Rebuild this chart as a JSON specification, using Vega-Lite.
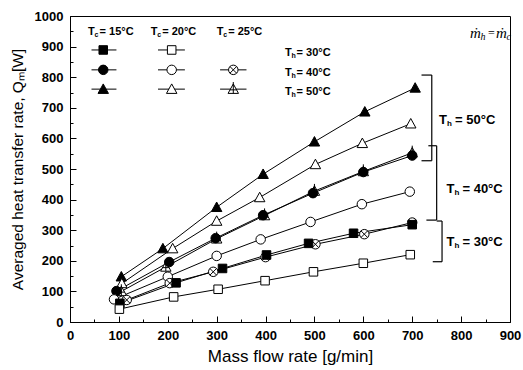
{
  "$schema": "https://vega.github.io/schema/vega-lite/v6.json",
  "width": 440,
  "height": 306,
  "autosize": {"type": "none"},
  "padding": {"left": 70, "top": 16, "right": 13, "bottom": 48},
  "background": "white",
  "config": {
    "view": {"stroke": "black", "strokeWidth": 1},
    "font": "Liberation Sans",
    "axis": {"grid": false, "domainColor": "black", "tickColor": "black", "labelColor": "black", "titleColor": "black"}
  },
  "datasets": {
    "series": [
      {"x": 105, "y": 148, "series": "15-50", "tc": "15"},
      {"x": 190, "y": 240, "series": "15-50", "tc": "15"},
      {"x": 300, "y": 375, "series": "15-50", "tc": "15"},
      {"x": 395, "y": 483, "series": "15-50", "tc": "15"},
      {"x": 500, "y": 589, "series": "15-50", "tc": "15"},
      {"x": 603, "y": 687, "series": "15-50", "tc": "15"},
      {"x": 706, "y": 765, "series": "15-50", "tc": "15"},
      {"x": 106, "y": 126, "series": "20-50", "tc": "20"},
      {"x": 210, "y": 240, "series": "20-50", "tc": "20"},
      {"x": 300, "y": 330, "series": "20-50", "tc": "20"},
      {"x": 388, "y": 407, "series": "20-50", "tc": "20"},
      {"x": 502, "y": 515, "series": "20-50", "tc": "20"},
      {"x": 598, "y": 584, "series": "20-50", "tc": "20"},
      {"x": 697, "y": 648, "series": "20-50", "tc": "20"},
      {"x": 105, "y": 100, "series": "25-50", "tc": "25"},
      {"x": 196, "y": 180, "series": "25-50", "tc": "25"},
      {"x": 300, "y": 272, "series": "25-50", "tc": "25"},
      {"x": 398, "y": 348, "series": "25-50", "tc": "25"},
      {"x": 500, "y": 428, "series": "25-50", "tc": "25"},
      {"x": 600, "y": 492, "series": "25-50", "tc": "25"},
      {"x": 700, "y": 553, "series": "25-50", "tc": "25"},
      {"x": 95, "y": 101, "series": "15-40", "tc": "15"},
      {"x": 203, "y": 196, "series": "15-40", "tc": "15"},
      {"x": 298, "y": 274, "series": "15-40", "tc": "15"},
      {"x": 395, "y": 349, "series": "15-40", "tc": "15"},
      {"x": 497, "y": 421, "series": "15-40", "tc": "15"},
      {"x": 600, "y": 490, "series": "15-40", "tc": "15"},
      {"x": 700, "y": 544, "series": "15-40", "tc": "15"},
      {"x": 90, "y": 74, "series": "20-40", "tc": "20"},
      {"x": 200, "y": 148, "series": "20-40", "tc": "20"},
      {"x": 300, "y": 216, "series": "20-40", "tc": "20"},
      {"x": 390, "y": 270, "series": "20-40", "tc": "20"},
      {"x": 492, "y": 327, "series": "20-40", "tc": "20"},
      {"x": 597, "y": 385, "series": "20-40", "tc": "20"},
      {"x": 695, "y": 426, "series": "20-40", "tc": "20"},
      {"x": 116, "y": 72, "series": "25-40", "tc": "25"},
      {"x": 204, "y": 127, "series": "25-40", "tc": "25"},
      {"x": 293, "y": 164, "series": "25-40", "tc": "25"},
      {"x": 400, "y": 212, "series": "25-40", "tc": "25"},
      {"x": 502, "y": 254, "series": "25-40", "tc": "25"},
      {"x": 602, "y": 287, "series": "25-40", "tc": "25"},
      {"x": 700, "y": 325, "series": "25-40", "tc": "25"},
      {"x": 102, "y": 61, "series": "15-30", "tc": "15"},
      {"x": 217, "y": 128, "series": "15-30", "tc": "15"},
      {"x": 312, "y": 175, "series": "15-30", "tc": "15"},
      {"x": 402, "y": 219, "series": "15-30", "tc": "15"},
      {"x": 488, "y": 257, "series": "15-30", "tc": "15"},
      {"x": 580, "y": 290, "series": "15-30", "tc": "15"},
      {"x": 700, "y": 318, "series": "15-30", "tc": "15"},
      {"x": 101, "y": 42, "series": "20-30", "tc": "20"},
      {"x": 212, "y": 82, "series": "20-30", "tc": "20"},
      {"x": 303, "y": 107, "series": "20-30", "tc": "20"},
      {"x": 399, "y": 135, "series": "20-30", "tc": "20"},
      {"x": 498, "y": 164, "series": "20-30", "tc": "20"},
      {"x": 600, "y": 192, "series": "20-30", "tc": "20"},
      {"x": 696, "y": 220, "series": "20-30", "tc": "20"}
    ],
    "legendLines": [
      {"x": 44, "x2": 95, "y": 889}, {"x": 44, "x2": 95, "y": 824}, {"x": 44, "x2": 95, "y": 761},
      {"x": 180, "x2": 235, "y": 889}, {"x": 180, "x2": 235, "y": 824}, {"x": 180, "x2": 235, "y": 761},
      {"x": 307, "x2": 361, "y": 824}, {"x": 307, "x2": 361, "y": 761}
    ],
    "legendPoints": [
      {"x": 68, "y": 889, "series": "15-30", "tc": "15"},
      {"x": 68, "y": 824, "series": "15-40", "tc": "15"},
      {"x": 68, "y": 761, "series": "15-50", "tc": "15"},
      {"x": 208, "y": 889, "series": "20-30", "tc": "20"},
      {"x": 208, "y": 824, "series": "20-40", "tc": "20"},
      {"x": 208, "y": 761, "series": "20-50", "tc": "20"},
      {"x": 334, "y": 824, "series": "25-40", "tc": "25"},
      {"x": 334, "y": 761, "series": "25-50", "tc": "25"}
    ],
    "smallLabels": [
      {"x": 37, "y": 949, "sub": "c", "rest": "= 15°C"},
      {"x": 165, "y": 949, "sub": "c", "rest": "= 20°C"},
      {"x": 300, "y": 949, "sub": "c", "rest": "= 25°C"},
      {"x": 440, "y": 880, "sub": "h", "rest": "= 30°C"},
      {"x": 440, "y": 815, "sub": "h", "rest": "= 40°C"},
      {"x": 440, "y": 753, "sub": "h", "rest": "= 50°C"}
    ],
    "bigLabels": [
      {"x": 755, "y": 660, "sub": "h", "rest": "= 50°C"},
      {"x": 770, "y": 434, "sub": "h", "rest": "= 40°C"},
      {"x": 770, "y": 262, "sub": "h", "rest": "= 30°C"}
    ],
    "brackets": [
      {"x": 740, "x2": 740, "y": 807, "y2": 527},
      {"x": 719, "x2": 740, "y": 807, "y2": 807},
      {"x": 719, "x2": 740, "y": 527, "y2": 527},
      {"x": 750, "x2": 750, "y": 576, "y2": 333},
      {"x": 733, "x2": 750, "y": 576, "y2": 576},
      {"x": 729, "x2": 750, "y": 333, "y2": 333},
      {"x": 761, "x2": 761, "y": 330, "y2": 197},
      {"x": 750, "x2": 761, "y": 330, "y2": 330},
      {"x": 742, "x2": 761, "y": 197, "y2": 197}
    ],
    "mdot": [{"x": 818, "y": 944}]
  },
  "resolve": {"axis": {"x": "independent", "y": "independent"}},
  "layer": [
    {
      "data": {"name": "series"},
      "mark": {"type": "line", "color": "black", "strokeWidth": 1},
      "encoding": {
        "x": {"field": "x", "type": "quantitative", "scale": {"domain": [0, 900], "nice": false},
          "axis": {"orient": "bottom", "values": [0, 100, 200, 300, 400, 500, 600, 700, 800, 900], "format": "d", "tickSize": -6, "labelPadding": 13, "labelFontSize": 13, "labelFontWeight": "bold", "labelFlush": false, "title": "Mass flow rate [g/min]", "titleFontSize": 17, "titleFontWeight": "normal", "titlePadding": 6}},
        "y": {"field": "y", "type": "quantitative", "scale": {"domain": [0, 1000], "nice": false},
          "axis": {"orient": "left", "values": [0, 100, 200, 300, 400, 500, 600, 700, 800, 900, 1000], "format": "d", "tickSize": -6, "labelPadding": 13, "labelFontSize": 13, "labelFontWeight": "bold", "labelFlush": false, "title": "Averaged heat transfer rate, Qₘ[W]", "titleFontSize": 15.5, "titleFontWeight": "normal", "titlePadding": 9}},
        "detail": {"field": "series"},
        "order": {"field": "x", "type": "quantitative"}
      }
    },
    {
      "data": {"name": "series"},
      "mark": {"type": "point", "filled": false, "stroke": "black", "strokeWidth": 1, "opacity": 1},
      "encoding": {
        "x": {"field": "x", "type": "quantitative",
          "axis": {"orient": "bottom", "values": [50, 150, 250, 350, 450, 550, 650, 750, 850], "tickSize": -3, "labels": false, "domain": false, "title": null}},
        "y": {"field": "y", "type": "quantitative",
          "axis": {"orient": "left", "values": [50, 150, 250, 350, 450, 550, 650, 750, 850, 950], "tickSize": -3, "labels": false, "domain": false, "title": null}},
        "shape": {"field": "series", "type": "nominal", "legend": null,
          "scale": {"domain": ["15-30", "15-40", "15-50", "20-30", "20-40", "20-50", "25-40", "25-50"],
            "range": [
              "M-0.9,-0.9L0.9,-0.9L0.9,0.9L-0.9,0.9Z",
              "M-1,0A1,1,0,1,1,1,0A1,1,0,1,1,-1,0Z",
              "M0,-1.1L1.1,0.9L-1.1,0.9Z",
              "M-0.9,-0.9L0.9,-0.9L0.9,0.9L-0.9,0.9Z",
              "M-1,0A1,1,0,1,1,1,0A1,1,0,1,1,-1,0Z",
              "M0,-1.1L1.1,0.9L-1.1,0.9Z",
              "M-1,0A1,1,0,1,1,1,0A1,1,0,1,1,-1,0ZM-0.7,-0.7L0.7,0.7M-0.7,0.7L0.7,-0.7",
              "M0,-1.1L1.1,0.9L-1.1,0.9ZM0,-1.5L0,0.9M-0.7,0.15L0.7,0.15"
            ]}},
        "fill": {"field": "tc", "type": "nominal", "legend": null,
          "scale": {"domain": ["15", "20", "25"], "range": ["black", "white", "white"]}},
        "size": {"value": 90}
      }
    },
    {
      "data": {"name": "legendLines"},
      "mark": {"type": "rule", "color": "black", "strokeWidth": 1},
      "encoding": {
        "x": {"field": "x", "type": "quantitative", "axis": null},
        "x2": {"field": "x2"},
        "y": {"field": "y", "type": "quantitative", "axis": null}
      }
    },
    {
      "data": {"name": "legendPoints"},
      "mark": {"type": "point", "filled": false, "stroke": "black", "strokeWidth": 1, "opacity": 1},
      "encoding": {
        "x": {"field": "x", "type": "quantitative", "axis": null},
        "y": {"field": "y", "type": "quantitative", "axis": null},
        "shape": {"field": "series", "type": "nominal", "legend": null},
        "fill": {"field": "tc", "type": "nominal", "legend": null},
        "size": {"value": 90}
      }
    },
    {
      "data": {"name": "brackets"},
      "mark": {"type": "rule", "color": "black", "strokeWidth": 1.2},
      "encoding": {
        "x": {"field": "x", "type": "quantitative", "axis": null},
        "x2": {"field": "x2"},
        "y": {"field": "y", "type": "quantitative", "axis": null},
        "y2": {"field": "y2"}
      }
    },
    {
      "data": {"name": "smallLabels"},
      "mark": {"type": "text", "text": "T", "align": "left", "baseline": "middle", "fontSize": 11, "fontWeight": "bold", "color": "black"},
      "encoding": {
        "x": {"field": "x", "type": "quantitative", "axis": null},
        "y": {"field": "y", "type": "quantitative", "axis": null}
      }
    },
    {
      "data": {"name": "smallLabels"},
      "mark": {"type": "text", "align": "left", "baseline": "middle", "fontSize": 7, "fontWeight": "bold", "dx": 6.5, "dy": 3, "color": "black"},
      "encoding": {
        "x": {"field": "x", "type": "quantitative", "axis": null},
        "y": {"field": "y", "type": "quantitative", "axis": null},
        "text": {"field": "sub"}
      }
    },
    {
      "data": {"name": "smallLabels"},
      "mark": {"type": "text", "align": "left", "baseline": "middle", "fontSize": 11, "fontWeight": "bold", "dx": 11.5, "color": "black"},
      "encoding": {
        "x": {"field": "x", "type": "quantitative", "axis": null},
        "y": {"field": "y", "type": "quantitative", "axis": null},
        "text": {"field": "rest"}
      }
    },
    {
      "data": {"name": "bigLabels"},
      "mark": {"type": "text", "text": "T", "align": "left", "baseline": "middle", "fontSize": 13, "fontWeight": "bold", "color": "black"},
      "encoding": {
        "x": {"field": "x", "type": "quantitative", "axis": null},
        "y": {"field": "y", "type": "quantitative", "axis": null}
      }
    },
    {
      "data": {"name": "bigLabels"},
      "mark": {"type": "text", "align": "left", "baseline": "middle", "fontSize": 8, "fontWeight": "bold", "dx": 8, "dy": 4, "color": "black"},
      "encoding": {
        "x": {"field": "x", "type": "quantitative", "axis": null},
        "y": {"field": "y", "type": "quantitative", "axis": null},
        "text": {"field": "sub"}
      }
    },
    {
      "data": {"name": "bigLabels"},
      "mark": {"type": "text", "align": "left", "baseline": "middle", "fontSize": 13, "fontWeight": "bold", "dx": 16, "color": "black"},
      "encoding": {
        "x": {"field": "x", "type": "quantitative", "axis": null},
        "y": {"field": "y", "type": "quantitative", "axis": null},
        "text": {"field": "rest"}
      }
    },
    {
      "data": {"name": "mdot"},
      "mark": {"type": "text", "text": "ṁ", "align": "left", "baseline": "middle", "fontSize": 15, "font": "Liberation Serif", "fontStyle": "italic", "color": "black"},
      "encoding": {
        "x": {"field": "x", "type": "quantitative", "axis": null},
        "y": {"field": "y", "type": "quantitative", "axis": null}
      }
    },
    {
      "data": {"name": "mdot"},
      "mark": {"type": "text", "text": "h", "align": "left", "baseline": "middle", "fontSize": 10, "font": "Liberation Serif", "fontStyle": "italic", "dx": 10.5, "dy": 4, "color": "black"},
      "encoding": {
        "x": {"field": "x", "type": "quantitative", "axis": null},
        "y": {"field": "y", "type": "quantitative", "axis": null}
      }
    },
    {
      "data": {"name": "mdot"},
      "mark": {"type": "text", "text": "=", "align": "left", "baseline": "middle", "fontSize": 12, "font": "Liberation Serif", "dx": 18, "color": "black"},
      "encoding": {
        "x": {"field": "x", "type": "quantitative", "axis": null},
        "y": {"field": "y", "type": "quantitative", "axis": null}
      }
    },
    {
      "data": {"name": "mdot"},
      "mark": {"type": "text", "text": "ṁ", "align": "left", "baseline": "middle", "fontSize": 15, "font": "Liberation Serif", "fontStyle": "italic", "dx": 26, "color": "black"},
      "encoding": {
        "x": {"field": "x", "type": "quantitative", "axis": null},
        "y": {"field": "y", "type": "quantitative", "axis": null}
      }
    },
    {
      "data": {"name": "mdot"},
      "mark": {"type": "text", "text": "c", "align": "left", "baseline": "middle", "fontSize": 10, "font": "Liberation Serif", "fontStyle": "italic", "dx": 36.5, "dy": 4, "color": "black"},
      "encoding": {
        "x": {"field": "x", "type": "quantitative", "axis": null},
        "y": {"field": "y", "type": "quantitative", "axis": null}
      }
    }
  ]
}
